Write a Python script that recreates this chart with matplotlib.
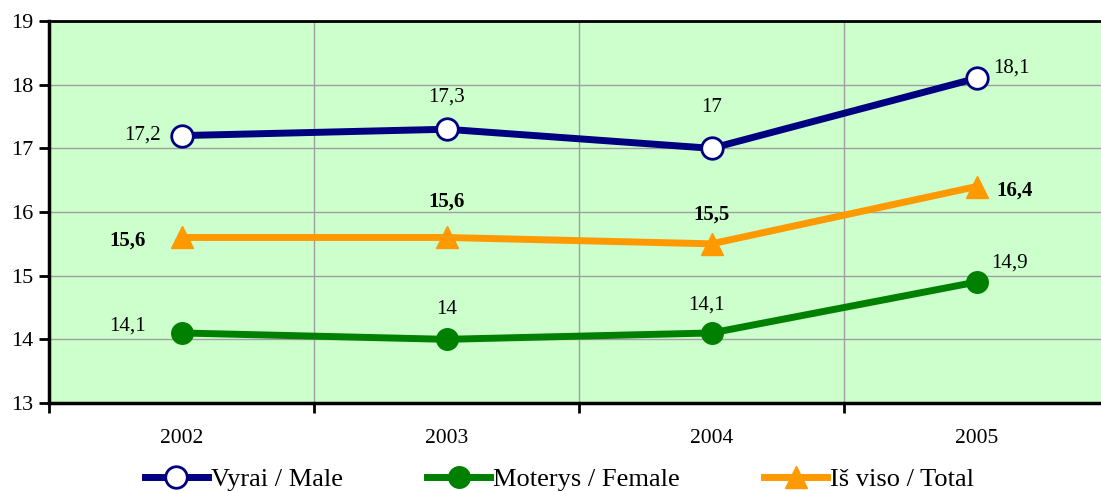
import numpy as np
import matplotlib.pyplot as plt
from matplotlib.ticker import FixedLocator

# data
years = ['2002', '2003', '2004', '2005']
male = [17.2, 17.3, 17.0, 18.1]
female = [14.1, 14.0, 14.1, 14.9]
total = [15.6, 15.6, 15.5, 16.4]
male_labels = ['17,2', '17,3', '17', '18,1']
female_labels = ['14,1', '14', '14,1', '14,9']
total_labels = ['15,6', '15,6', '15,5', '16,4']

plt.rcParams['font.family'] = ['Liberation Serif', 'DejaVu Serif']

fig = plt.figure(figsize=(11.01, 4.91), dpi=100)
ax = fig.add_axes([49 / 1101, 88 / 491, 1060 / 1101, 382 / 491])
ax.set_facecolor('#CCFFCC')

x = np.arange(len(years))

ax.plot(x, male, color='#000080', lw=5, marker='o', ms=15.5, mfc='white',
        mec='#000080', mew=2, label='Vyrai / Male', zorder=4)
ax.plot(x, female, color='#008000', lw=5, marker='o', ms=15.5, mfc='#008000',
        mec='#008000', label='Moterys / Female', zorder=4)
ax.plot(x, total, color='#FF9900', lw=5, marker='^', ms=16, mfc='#FF9900',
        mec='#FF9900', label='Iš viso / Total', zorder=4)

# value labels, offsets in pixels
male_off = [(-39, 1), (0, 32), (0, 41), (35, 10)]
total_off = [(-54, -3), (0, 36), (0, 29), (38, -4)]
female_off = [(-54, 7), (0, 30), (-5, 28), (33, 19)]
for i in range(len(years)):
    ax.annotate(male_labels[i], (x[i], male[i]), xytext=male_off[i],
                textcoords='offset pixels', ha='center', va='center', fontsize=15)
    ax.annotate(total_labels[i], (x[i], total[i]), xytext=total_off[i],
                textcoords='offset pixels', ha='center', va='center', fontsize=15,
                fontweight='bold')
    ax.annotate(female_labels[i], (x[i], female[i]), xytext=female_off[i],
                textcoords='offset pixels', ha='center', va='center', fontsize=15)

ax.set_xlim(-0.5, 3.5)
ax.set_ylim(13, 19)
ax.set_yticks(range(13, 20))

# category labels in the middle, tick marks on the boundaries
ax.set_xticks(x)
ax.set_xticklabels(years)
ax.xaxis.set_minor_locator(FixedLocator([-0.5, 0.5, 1.5, 2.5, 3.5]))
ax.tick_params(axis='x', which='major', length=0, pad=19, labelsize=15.5)
ax.tick_params(axis='x', which='minor', length=7, width=2, direction='out')
ax.tick_params(axis='y', length=7, width=2, direction='out', labelsize=16, pad=4)

ax.grid(True, axis='y', color='#A0A0A0', lw=1)
ax.grid(True, axis='x', which='minor', color='#A0A0A0', lw=1)
ax.set_axisbelow(True)

for s in ['left', 'bottom']:
    ax.spines[s].set_linewidth(2.5)
ax.spines['top'].set_linewidth(2)
ax.spines['right'].set_linewidth(2)

leg = fig.legend(loc='center', bbox_to_anchor=(0.508, 0.024), ncol=3, frameon=False,
                 fontsize=19, handlelength=2.4, handletextpad=0.1, columnspacing=3.2)

fig.savefig('out.png', dpi=100)
